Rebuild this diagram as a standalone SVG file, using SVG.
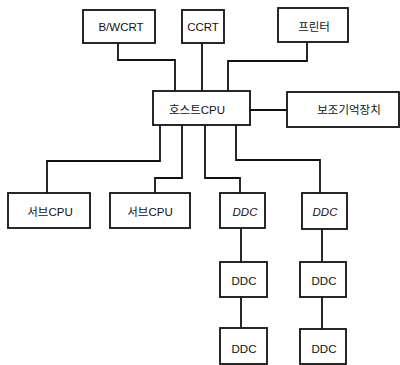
<svg xmlns="http://www.w3.org/2000/svg" width="400" height="365" viewBox="0 0 400 365">
<style>
.box{fill:#fff;stroke:#111;stroke-width:1.8}
.ln{fill:none;stroke:#111;stroke-width:1.8}
text{font-family:"Liberation Sans","Noto Sans CJK KR",sans-serif;font-size:11.5px;fill:#111;text-anchor:middle;dominant-baseline:central}
.it{font-style:italic}
</style>
<rect width="400" height="365" fill="#fff"/>
<g id="connectors">
<polyline class="ln" points="118,43 118,60 175,60 175,91"/>
<polyline class="ln" points="202,43 202,91"/>
<polyline class="ln" points="307,42 307,61 228,61 228,91"/>
<polyline class="ln" points="250,110 287,110"/>
<polyline class="ln" points="160,125 160,161 47,161 47,193"/>
<polyline class="ln" points="182,125 182,178 155,178 155,193"/>
<polyline class="ln" points="205,125 205,178 240,178 240,193"/>
<polyline class="ln" points="236,125 236,160 320,160 320,193"/>
<polyline class="ln" points="241,228 241,262"/>
<polyline class="ln" points="241,297 241,328"/>
<polyline class="ln" points="322,229 322,262"/>
<polyline class="ln" points="322,297 322,329"/>
</g>
<g id="bwcrt"><rect class="box" x="83" y="10" width="72" height="33"/><text x="121" y="27" font-size="12.5">B/WCRT</text></g>
<g id="ccrt"><rect class="box" x="182" y="10" width="42" height="33"/><text x="203" y="27" font-size="12.5">CCRT</text></g>
<g id="printer"><rect class="box" x="278" y="8" width="70" height="34"/><text x="314" y="27">프린터</text></g>
<g id="host"><rect class="box" x="153" y="91" width="97" height="34"/><text x="197" y="110">호스트CPU</text></g>
<g id="aux"><rect class="box" x="287" y="92" width="112" height="35"/><text x="349" y="110">보조기억장치</text></g>
<g id="sub1"><rect class="box" x="8" y="193" width="82" height="35"/><text x="50" y="212">서브CPU</text></g>
<g id="sub2"><rect class="box" x="110" y="193" width="80" height="35"/><text x="150" y="212">서브CPU</text></g>
<g id="ddc1"><rect class="box" x="220" y="193" width="45" height="35"/><text class="it" x="245" y="212">DDC</text></g>
<g id="ddc2"><rect class="box" x="302" y="193" width="45" height="36"/><text class="it" x="325" y="212">DDC</text></g>
<g id="ddc3"><rect class="box" x="220" y="262" width="47" height="35"/><text x="244" y="281">DDC</text></g>
<g id="ddc4"><rect class="box" x="300" y="262" width="46" height="35"/><text x="324" y="281">DDC</text></g>
<g id="ddc5"><rect class="box" x="220" y="328" width="47" height="36"/><text x="244" y="349">DDC</text></g>
<g id="ddc6"><rect class="box" x="300" y="329" width="46" height="35"/><text x="324" y="349">DDC</text></g>
</svg>
